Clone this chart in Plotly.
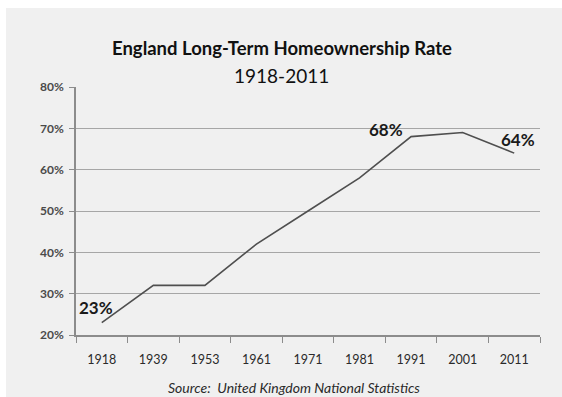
import plotly.graph_objects as go

years = ["1918", "1939", "1953", "1961", "1971", "1981", "1991", "2001", "2011"]
rates = [23, 32, 32, 42, 50, 58, 68, 69, 64]
label_years = ["1918", "1991", "2011"]
label_texts = ["23%", "68%", "64%"]
y_ticks = [20, 30, 40, 50, 60, 70, 80]

FONT = "Lato"
W, H = 562, 397
L, T = 76, 87
R, B = W - 540, H - 335
pw, ph = W - L - R, H - T - B

def px_x(px):
    return (px - L) / pw

def px_y(py):
    return (H - B - py) / ph

xs = list(range(len(years)))

fig = go.Figure()
fig.add_trace(go.Scatter(x=xs, y=rates, mode="lines",
                         line=dict(color="#4f4f4f", width=1.6),
                         hoverinfo="skip", showlegend=False))

shifts = {"1918": (-6, 15), "1991": (-25, 7), "2011": (4, 14)}
annotations = []
for yr, txt in zip(label_years, label_texts):
    i = years.index(yr)
    dx, dy = shifts[yr]
    annotations.append(dict(x=xs[i], y=rates[i], xref="x", yref="y", text="<b>" + txt + "</b>",
                            showarrow=False, xshift=dx, yshift=dy,
                            xanchor="center", yanchor="middle",
                            font=dict(family=FONT, size=17, color="#1a1a1a")))

annotations += [
    dict(x=px_x(282), y=px_y(48), xref="paper", yref="paper",
         text="<b>England Long-Term Homeownership Rate</b>",
         showarrow=False, xanchor="center", yanchor="middle",
         font=dict(family=FONT, size=18.5, color="#111111")),
    dict(x=px_x(281), y=px_y(75), xref="paper", yref="paper", text="1918-2011",
         showarrow=False, xanchor="center", yanchor="middle",
         font=dict(family=FONT, size=19, color="#111111")),
    dict(x=px_x(294), y=px_y(387), xref="paper", yref="paper",
         text="<i>Source:  United Kingdom National Statistics</i>",
         showarrow=False, xanchor="center", yanchor="middle",
         font=dict(family=FONT, size=14, color="#2a2a2a")),
]

# grey chart panel inside a thin white border (top/left)
fig.add_shape(type="rect", xref="paper", yref="paper",
              x0=px_x(6), x1=px_x(W + 2), y0=px_y(H + 2), y1=px_y(8),
              fillcolor="#f0f0f0", line=dict(width=0), layer="below")

boundaries = [i - 0.5 for i in range(len(years) + 1)]

fig.update_layout(
    width=W, height=H,
    margin=dict(l=L, r=R, t=T, b=B),
    paper_bgcolor="white",
    plot_bgcolor="#f0f0f0",
    annotations=annotations,
    xaxis=dict(range=[-0.5, len(years) - 0.5], tickvals=xs, ticktext=years, ticks="",
               minor=dict(tickvals=boundaries, ticks="outside", ticklen=6, tickcolor="#8c8c8c",
                          showgrid=False),
               showline=True, linecolor="#8c8c8c", linewidth=1.5,
               showgrid=False, zeroline=False, ticklabelstandoff=12,
               tickfont=dict(family=FONT, size=12.5, color="#2a2a2a"),
               fixedrange=True),
    yaxis=dict(range=[20, 80], tickvals=y_ticks, ticktext=[f"<b>{v}%</b>" for v in y_ticks],
               ticks="outside", ticklen=5, tickcolor="#8c8c8c", ticklabelstandoff=3,
               showline=True, linecolor="#8c8c8c", linewidth=1.5,
               showgrid=True, gridcolor="#a6a6a6", gridwidth=1.4, zeroline=False,
               tickfont=dict(family=FONT, size=12, color="#4a4a4a"), fixedrange=True),
)

fig.write_html("out.html", config={"displayModeBar": False},
               post_script="document.body.style.margin='0';document.body.style.overflow='hidden';")
